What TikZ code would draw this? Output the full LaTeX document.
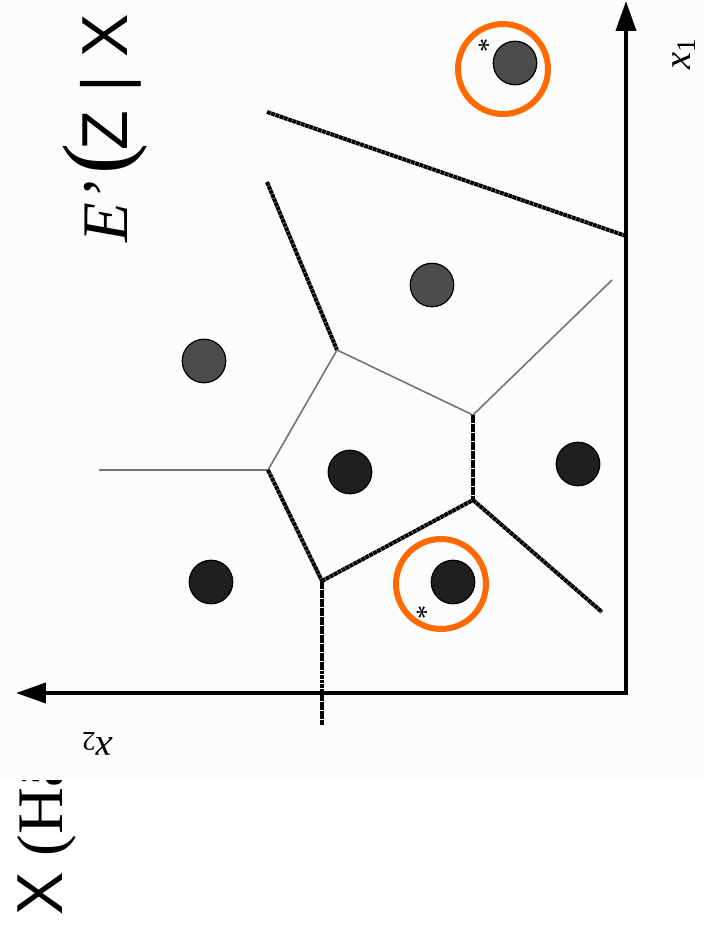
\documentclass[tikz,border=0pt]{standalone}
\usepackage{fontspec}
\setmainfont{Liberation Serif}
\setsansfont{Liberation Sans}
\usepackage{xcolor}
\usepackage{tikz}
\usetikzlibrary{arrows.meta}
\definecolor{laranja}{HTML}{FF6A00}
\definecolor{fundo}{HTML}{FCFCFC}
\tikzset{
    eixo/.style={
        line width=2.2pt,
        {Triangle[length=0.6cm,width=0.4cm]}-{Triangle[length=0.6cm,width=0.4cm]}
    },
    fronteira/.style={line width=2.3pt, dash pattern=on 2.2pt off 0.35pt},
    divisao/.style={line width=0.9pt, draw=black!55},
    ponto/.style={
        circle,
        draw=black,
        line width=0.7pt,
        minimum size=0.87cm,
        inner sep=0pt
    },
    pontoClaro/.style={ponto, fill=black!70},
    pontoEscuro/.style={ponto, fill=black!88},
    anel/.style={circle, draw=laranja, line width=3.4pt, minimum size=1.8cm, inner sep=0pt},
    estrela/.style={inner sep=0pt, font=\fontsize{16}{16}\selectfont},
    rotulo/.style={inner sep=0pt, font=\fontsize{22}{24}\selectfont}
}

\begin{document}
\begin{tikzpicture}[x=0.02cm, y=-0.02cm]
    \useasboundingbox (0,0) rectangle (704,936);
    \node[rotate=90, anchor=base west, inner sep=0pt, font=\fontsize{37}{40}\selectfont] (legenda)
        at (62,916) {\textsf{X} (Hä};
    \fill[fundo] (0,0) rectangle (704,780);

    \coordinate (origem) at (626,693);
    \coordinate (topo) at (626,1);
    \coordinate (esquerda) at (16,693);
    \draw[eixo] (esquerda) -- (origem) -- (topo);
    \node[rotulo, rotate=90] (x1) at (684,54) {\textit{x}\textsubscript{1}};
    \node[rotulo, rotate=180] (x2) at (97,744) {\textit{x}\textsubscript{2}};

    \coordinate (vA) at (337,350);
    \coordinate (vB) at (473,415);
    \coordinate (vC) at (268,470);
    \coordinate (vD) at (322,581);
    \coordinate (vE) at (473,500);
    \coordinate (f1) at (267,112);
    \coordinate (f2) at (626,236);
    \coordinate (f3) at (267,182);
    \coordinate (f4) at (612,280);
    \coordinate (f5) at (99,470);
    \coordinate (f6) at (602,612);
    \coordinate (f7) at (322,725);

    \draw[fronteira] (f1) -- (f2);
    \draw[fronteira] (f3) -- (vA);
    \draw[divisao] (vA) -- (vB);
    \draw[divisao] (vB) -- (f4);
    \draw[divisao] (vA) -- (vC);
    \draw[divisao] (vC) -- (f5);
    \draw[fronteira] (vC) -- (vD);
    \draw[fronteira] (vD) -- (vE);
    \draw[fronteira] (vB) -- (vE);
    \draw[fronteira] (vE) -- (f6);
    \draw[fronteira] (vD) -- (f7);

    \node[pontoClaro] (p1) at (515,63) {};
    \node[pontoClaro] (p2) at (432,285) {};
    \node[pontoClaro] (p3) at (204,361) {};
    \node[pontoEscuro] (p4) at (350,472) {};
    \node[pontoEscuro] (p5) at (578,464) {};
    \node[pontoEscuro] (p6) at (211,582) {};
    \node[pontoEscuro] (p7) at (453,582) {};

    \node[anel] (anel1) at (503,69) {};
    \node[anel] (anel2) at (441,584) {};
    \node[estrela, rotate=90] (e1) at (488,45) {*};
    \node[estrela, rotate=90] (e2) at (426,612) {*};

    \node[rotate=90, anchor=base west, inner sep=0pt, font=\fontsize{37}{40}\selectfont] (formula)
        at (127,243) {\textit{E}\textit{’}\kern4pt{\fontsize{53}{53}\selectfont(}\kern-4pt\textsf{Z | X}};
\end{tikzpicture}
\end{document}
